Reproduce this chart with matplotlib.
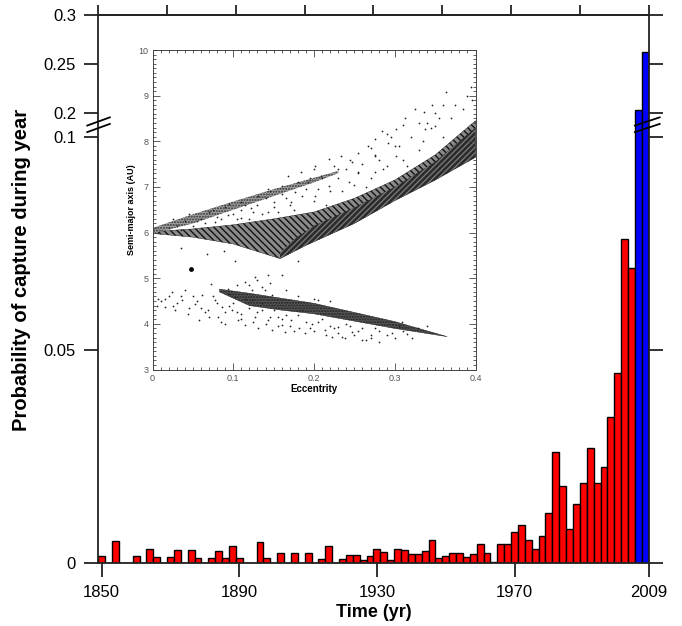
import numpy as np
import matplotlib
matplotlib.use('Agg')
import matplotlib.pyplot as plt

plt.rcParams['font.family'] = ['Liberation Sans', 'DejaVu Sans']

# ---- main histogram data (2-year bins starting 1849) ----
bin_years = list(range(1849, 2009, 2))
capture_prob = [
    0.0016, 0.0, 0.0051, 0.0, 0.0, 0.0016, 0.0, 0.0032, 0.0014, 0.0,
    0.0014, 0.0030, 0.0, 0.0030, 0.0012, 0.0, 0.0012, 0.0027, 0.0011, 0.0039,
    0.0011, 0.0, 0.0, 0.0049, 0.0010, 0.0, 0.0023, 0.0, 0.0023, 0.0,
    0.0022, 0.0, 0.0009, 0.0040, 0.0, 0.0008, 0.0017, 0.0017, 0.0007, 0.0015,
    0.0033, 0.0024, 0.0006, 0.0031, 0.0030, 0.0021, 0.0020, 0.0027, 0.0054, 0.0010,
    0.0016, 0.0023, 0.0022, 0.0013, 0.0020, 0.0045, 0.0023, 0.0002, 0.0044, 0.0045,
    0.0072, 0.0088, 0.0053, 0.0032, 0.0063, 0.0117, 0.0260, 0.0181, 0.0079, 0.0139,
    0.0186, 0.0269, 0.0188, 0.0224, 0.0341, 0.0446, 0.0761, 0.0693, 0.2034, 0.2620,
]
n_blue = 2

x_ticks = [1850, 1890, 1930, 1970, 2009]
top_ticks = [1849, 1869, 1889, 1909, 1929, 1949, 1969, 1989, 2009]
y_ticks = [0, 0.05, 0.1, 0.2, 0.25, 0.3]
y_tick_labels = ['0', '0.05', '0.1', '0.2', '0.25', '0.3']

# ---- inset data (eccentricity, semi-major axis) ----
band_up_e = [0.0, 0.05, 0.10, 0.15, 0.20, 0.25, 0.30, 0.35, 0.40]
band_up_a = [6.02, 6.08, 6.17, 6.30, 6.45, 6.75, 7.15, 7.70, 8.45]
band_lo_e = [0.0, 0.05, 0.10, 0.158, 0.19, 0.25, 0.30, 0.35, 0.40]
band_lo_a = [5.98, 5.90, 5.75, 5.43, 5.72, 6.20, 6.70, 7.15, 7.65]

arm_up_e = [0.158, 0.175, 0.20, 0.25, 0.30, 0.35, 0.40]
arm_up_a = [5.55, 5.85, 6.15, 6.55, 7.0, 7.55, 8.3]
arm_lo_e = [0.158, 0.19, 0.25, 0.30, 0.35, 0.40]
arm_lo_a = [5.43, 5.72, 6.20, 6.70, 7.15, 7.65]

streak_up_e = [0.0, 0.05, 0.10, 0.15, 0.20, 0.23]
streak_up_a = [6.10, 6.40, 6.68, 6.95, 7.20, 7.35]
streak_lo_e = [0.0, 0.05, 0.10, 0.15, 0.20, 0.23]
streak_lo_a = [5.98, 6.20, 6.50, 6.80, 7.10, 7.30]

low_up_e = [0.083, 0.12, 0.16, 0.20, 0.25, 0.30, 0.365]
low_up_a = [4.76, 4.67, 4.56, 4.45, 4.25, 4.05, 3.72]
low_lo_e = [0.083, 0.12, 0.16, 0.20, 0.25, 0.30, 0.365]
low_lo_a = [4.70, 4.40, 4.30, 4.22, 4.06, 3.90, 3.72]

cloud_e = [0.363, 0.396, 0.346, 0.336, 0.350, 0.313, 0.330, 0.301, 0.338, 0.350,
           0.284, 0.276, 0.292, 0.267, 0.255, 0.276, 0.301, 0.234, 0.247, 0.218,
           0.230, 0.255, 0.276, 0.201, 0.209, 0.184, 0.193, 0.218, 0.243, 0.168,
           0.160, 0.176, 0.201, 0.143, 0.131, 0.151, 0.172, 0.110, 0.122, 0.143,
           0.093, 0.110, 0.077, 0.060, 0.035, 0.068, 0.089, 0.102, 0.143, 0.160,
           0.180, 0.03, 0.04, 0.05, 0.06, 0.07, 0.08, 0.09, 0.10, 0.11,
           0.12, 0.13, 0.14, 0.15, 0.16, 0.17, 0.18, 0.19, 0.20, 0.21,
           0.22, 0.23, 0.24, 0.25, 0.26, 0.27, 0.28, 0.29, 0.30, 0.31,
           0.32, 0.33, 0.34, 0.36, 0.37, 0.385, 0.39, 0.36, 0.325,
           0.02, 0.025, 0.035, 0.045, 0.055, 0.065, 0.075, 0.085, 0.095, 0.105,
           0.115, 0.125, 0.135, 0.145, 0.155, 0.165, 0.175, 0.185, 0.195, 0.205,
           0.215, 0.225, 0.235, 0.245, 0.255, 0.265, 0.275, 0.285, 0.295, 0.305,
           0.315, 0.335, 0.345, 0.355, 0.375, 0.395, 0.31, 0.27, 0.29, 0.20]
cloud_a = [9.09, 8.91, 8.80, 8.65, 8.62, 8.51, 8.40, 8.26, 8.26, 8.33,
           8.22, 8.04, 7.97, 7.90, 7.75, 7.68, 7.68, 7.68, 7.54, 7.61,
           7.39, 7.32, 7.32, 7.46, 7.25, 7.32, 7.10, 7.03, 7.10, 7.25,
           7.03, 6.89, 6.81, 6.96, 6.81, 6.67, 6.67, 6.67, 6.53, 6.45,
           6.38, 6.31, 6.24, 6.09, 5.66, 5.52, 5.59, 5.37, 5.08, 5.08,
           5.37, 6.15, 6.25, 6.15, 6.30, 6.45, 6.35, 6.55, 6.40, 6.50,
           6.30, 6.60, 6.75, 6.55, 6.85, 6.60, 7.10, 6.95, 6.70, 7.20,
           6.90, 7.20, 7.40, 7.05, 7.50, 7.20, 7.60, 7.45, 7.90, 7.60,
           8.10, 7.80, 8.40, 8.10, 8.50, 8.70, 9.00, 8.80, 8.70,
           6.10, 6.30, 6.05, 6.40, 6.25, 6.20, 6.50, 6.30, 6.62, 6.30,
           6.60, 6.45, 6.40, 6.90, 6.45, 6.75, 6.50, 6.80, 7.20, 6.95,
           6.60, 7.45, 6.90, 7.60, 7.30, 7.00, 7.70, 7.40, 8.10, 7.90,
           7.45, 8.00, 8.30, 8.50, 8.80, 9.20, 8.35, 7.85, 8.15, 7.40]

low_cloud_e = [0.007, 0.015, 0.024, 0.028, 0.036, 0.040, 0.044, 0.053, 0.057, 0.061,
               0.069, 0.073, 0.077, 0.081, 0.086, 0.090, 0.094, 0.098, 0.102, 0.106,
               0.110, 0.115, 0.119, 0.123, 0.127, 0.131, 0.135, 0.139, 0.143, 0.148,
               0.156, 0.160, 0.164, 0.172, 0.181, 0.189, 0.197, 0.205, 0.214, 0.222,
               0.230, 0.238, 0.247, 0.259, 0.271, 0.280, 0.296, 0.309, 0.321, 0.329,
               0.115, 0.123, 0.127, 0.135, 0.148, 0.02, 0.03, 0.05, 0.06, 0.07,
               0.08, 0.09, 0.10, 0.11, 0.12, 0.13, 0.14, 0.15, 0.16, 0.17,
               0.18, 0.19, 0.20, 0.21, 0.22, 0.23, 0.24, 0.25, 0.26, 0.27,
               0.28, 0.30, 0.31, 0.34, 0.095, 0.105, 0.13, 0.145, 0.165, 0.18,
               0.20, 0.22, 0.015, 0.005,
               0.01, 0.025, 0.035, 0.045, 0.055, 0.065, 0.075, 0.085, 0.095, 0.105,
               0.115, 0.125, 0.135, 0.145, 0.155, 0.165, 0.175, 0.185, 0.195, 0.205,
               0.215, 0.225, 0.235, 0.245, 0.255, 0.265, 0.275, 0.29, 0.305, 0.315]
low_cloud_a = [4.55, 4.37, 4.70, 4.30, 4.52, 4.74, 4.22, 4.44, 4.08, 4.63,
               4.30, 4.88, 4.52, 4.15, 4.37, 4.00, 4.77, 4.30, 4.59, 4.08,
               4.22, 3.97, 4.85, 4.52, 4.15, 3.90, 4.30, 4.74, 4.08, 3.86,
               4.15, 3.97, 3.82, 4.08, 3.90, 3.79, 4.00, 4.52, 3.86, 3.71,
               3.93, 3.68, 3.82, 3.64, 3.75, 3.60, 3.79, 4.04, 3.68, 3.90,
               4.92, 4.74, 5.03, 4.81, 4.63, 4.60, 4.45, 4.60, 4.35, 4.15,
               4.45, 4.25, 4.45, 4.10, 4.35, 4.25, 4.00, 4.30, 4.10, 3.95,
               4.20, 4.05, 3.85, 4.10, 3.95, 3.80, 4.00, 3.75, 3.90, 3.70,
               3.85, 3.70, 3.85, 3.95, 4.65, 4.85, 4.95, 4.90, 4.75, 4.60,
               4.55, 4.50, 4.55, 4.40,
               4.50, 4.40, 4.60, 4.35, 4.50, 4.25, 4.60, 4.05, 4.40, 4.25,
               4.55, 4.05, 4.45, 4.15, 3.95, 4.20, 3.85, 4.30, 3.92, 4.05,
               3.75, 3.90, 3.72, 3.95, 3.85, 3.65, 3.90, 3.75, 3.95, 3.78]

jupiter_e = [0.048]
jupiter_a = [5.2]

# ---- broken y scale: 0-0.1 full, 0.1-0.2 squeezed, 0.2-0.3 compressed ----
GAP = 0.055
UPPER = 0.231


def forward(y):
    y = np.asarray(y, dtype=float)
    return np.where(y <= 0.1, y,
                    np.where(y <= 0.2, 0.1 + (y - 0.1) * GAP,
                             0.1 + 0.1 * GAP + (y - 0.2) * UPPER))


def inverse(t):
    t = np.asarray(t, dtype=float)
    t0 = 0.1 + 0.1 * GAP
    return np.where(t <= 0.1, t,
                    np.where(t <= t0, 0.1 + (t - 0.1) / GAP,
                             0.2 + (t - t0) / UPPER))


fig = plt.figure(figsize=(6.82, 6.26), dpi=100)
ax = fig.add_axes([98.26 / 682, 1 - 562.7 / 626, 550.4 / 682, 547.7 / 626])
ax.set_yscale('function', functions=(forward, inverse))

colors = ['#ff0000'] * (len(capture_prob) - n_blue) + ['#0000ff'] * n_blue
ax.bar(bin_years, capture_prob, width=2, align='edge', color=colors,
       edgecolor='black', linewidth=1.0, zorder=2)

ax.set_xlim(1849, 2009)
ax.set_ylim(0, 0.3)
ax.set_xticks(x_ticks)
ax.set_xticklabels([str(v) for v in x_ticks])
ax.set_yticks(y_ticks)
ax.set_yticklabels(y_tick_labels)
ax.minorticks_off()
ax.tick_params(axis='both', direction='out', length=10, width=1.3,
               color='#222222', labelsize=12, pad=6)
ax.tick_params(axis='y', right=True)
for sp in ax.spines.values():
    sp.set_linewidth(1.3)
    sp.set_color('#222222')

top = ax.secondary_xaxis('top')
top.set_xticks(top_ticks)
top.tick_params(direction='out', length=7, width=1.3, color='#222222', labeltop=False)
top.spines['top'].set_linewidth(1.3)
top.spines['top'].set_color('#222222')

ax.set_xlabel('Time (yr)', fontsize=13, fontweight='bold')
ax.set_ylabel('Probability of capture during year', fontsize=14.5, fontweight='bold')
ax.xaxis.set_label_coords(0.5, -0.075)
ax.yaxis.set_label_coords(-0.122, 0.535)

# break marks
ytr = ax.get_yaxis_transform()
for x0, x1 in [(-0.02, 0.021), (0.975, 1.02)]:
    ax.plot([x0, x1], [0.120, 0.155], color='black', lw=1.3, transform=ytr, clip_on=False, zorder=5)
    ax.plot([x0, x1], [0.148, 0.183], color='black', lw=1.3, transform=ytr, clip_on=False, zorder=5)

# ---- inset ----
ins = fig.add_axes([152.5 / 682, 1 - 369.5 / 626, 323 / 682, 319.5 / 626])
ins.fill(band_up_e + band_lo_e[::-1], band_up_a + band_lo_a[::-1],
         facecolor='#8a8a8a', edgecolor='#111111', hatch='\\\\\\\\\\', linewidth=0.3)
ins.fill(arm_up_e + arm_lo_e[::-1], arm_up_a + arm_lo_a[::-1],
         facecolor='#2a2a2a', edgecolor='#777777', hatch='//////', linewidth=0.0)
ins.fill(streak_up_e + streak_lo_e[::-1], streak_up_a + streak_lo_a[::-1],
         facecolor='#a0a0a0', edgecolor='#333333', hatch='......', linewidth=0.0)
ins.fill(low_up_e + low_lo_e[::-1], low_up_a + low_lo_a[::-1],
         facecolor='#555555', edgecolor='#222222', hatch='......', linewidth=0.3)
ins.scatter(cloud_e, cloud_a, s=1.6, color='#222222', linewidths=0)
ins.scatter(low_cloud_e, low_cloud_a, s=1.6, color='#222222', linewidths=0)
ins.scatter(jupiter_e, jupiter_a, s=12, color='black', linewidths=0)

ins.set_xlim(0, 0.4)
ins.set_ylim(3, 10)
ins.set_xticks([0, 0.1, 0.2, 0.3, 0.4])
ins.set_xticklabels(['0', '0.1', '0.2', '0.3', '0.4'])
ins.set_yticks(range(3, 11))
ins.set_xticks(np.arange(0, 0.401, 0.01), minor=True)
ins.set_yticks(np.arange(3, 10.01, 0.1), minor=True)
ins.tick_params(which='both', direction='in', top=True, right=True,
                color='#444444', width=0.6)
ins.tick_params(which='major', length=5, labelsize=6.5, labelcolor='#555555', pad=3)
ins.tick_params(which='minor', length=2.5)
for sp in ins.spines.values():
    sp.set_linewidth(0.7)
    sp.set_color('#444444')
ins.set_xlabel('Eccentrity', fontsize=7, fontweight='bold', labelpad=1)
ins.set_ylabel('Semi-major axis (AU)', fontsize=6.5, fontweight='bold', labelpad=2)

fig.savefig('out.png', dpi=100)
